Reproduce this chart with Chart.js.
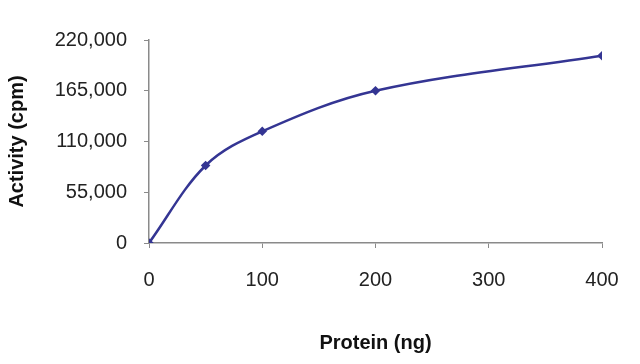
<!DOCTYPE html>
<html lang="en">
<head>
<meta charset="UTF-8">
<title>Activity vs Protein</title>
<script src="https://cdn.jsdelivr.net/npm/chart.js"></script>
<style>
  body { margin: 0; padding: 0; background: #fff; }
  .wrap { width: 640px; height: 364px; position: relative; }
</style>
</head>
<body>
<div class="wrap"><canvas id="chart"></canvas></div>
<script>
// values
const proteinNg = [0, 50, 100, 200, 400];
const activityCpm = [0, 84000, 121000, 165000, 203000];
const xTicks = [0, 100, 200, 300, 400];
const yTicks = [0, 55000, 110000, 165000, 220000];

const lineColor = '#343593';
const axisColor = '#8a8a8a';

const points = proteinNg.map((x, i) => ({ x: x, y: activityCpm[i] }));

new Chart(document.getElementById('chart'), {
  type: 'line',
  data: {
    datasets: [{
      data: points,
      borderColor: lineColor,
      backgroundColor: lineColor,
      borderWidth: 2.5,
      tension: 0.35,
      pointStyle: 'rectRot',
      pointRadius: 3,
      fill: false
    }]
  },
  options: {
    responsive: true,
    maintainAspectRatio: false,
    animation: false,
    layout: { padding: { top: 40, right: 38, left: 0, bottom: 0 } },
    plugins: { legend: { display: false }, tooltip: { enabled: false } },
    scales: {
      x: {
        type: 'linear',
        min: 0,
        max: 400,
        afterBuildTicks: (s) => { s.ticks = xTicks.map(v => ({ value: v })); },
        afterFit: (s) => { s.height = 121; },
        grid: { drawOnChartArea: false, color: axisColor, tickLength: 5 },
        border: { color: axisColor, width: 1.5 },
        ticks: { color: '#222', padding: 20, font: { family: 'Liberation Sans', size: 20 } },
        title: {
          display: true,
          text: 'Protein (ng)',
          color: '#111',
          padding: { top: 0, bottom: 9 },
          font: { family: 'Liberation Sans', size: 20, weight: 'bold' }
        }
      },
      y: {
        min: 0,
        max: 220000,
        afterBuildTicks: (s) => { s.ticks = yTicks.map(v => ({ value: v })); },
        afterFit: (s) => { s.width = 149; },
        grid: { drawOnChartArea: false, color: axisColor, tickLength: 5 },
        border: { color: axisColor, width: 1.5 },
        ticks: {
          color: '#222',
          padding: 17,
          font: { family: 'Liberation Sans', size: 20 },
          callback: (v) => v.toLocaleString('en-US')
        },
        title: {
          display: true,
          text: 'Activity (cpm)',
          color: '#111',
          padding: { top: 5, bottom: 0 },
          font: { family: 'Liberation Sans', size: 20, weight: 'bold' }
        }
      }
    }
  }
});
</script>
</body>
</html>
